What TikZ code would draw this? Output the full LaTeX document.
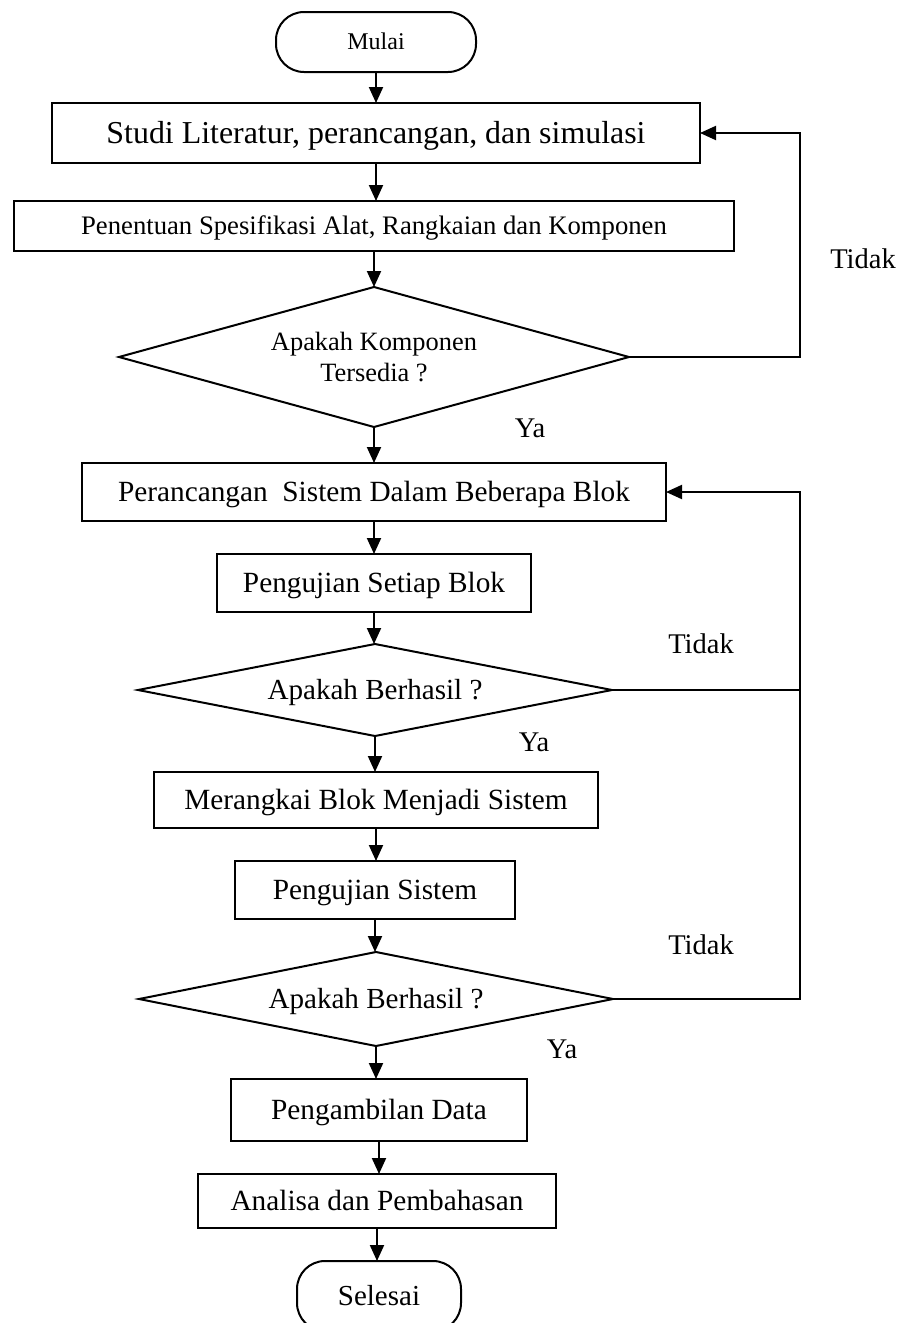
\documentclass[tikz,border=0pt]{standalone}
\usepackage{fontspec}
\setmainfont{Liberation Serif}
\usetikzlibrary{arrows.meta,shapes.geometric}
\begin{document}
\begin{tikzpicture}[x=1pt,y=-1pt,
  every node/.style={inner sep=0pt,outer sep=0pt},
  fs/.style 2 args={font=\fontsize{#1pt}{#1pt}\selectfont,text height=#2pt,text depth=0pt},
  ln/.style={line width=2pt},
  arr/.style={ln,-{Triangle[width=14pt,length=16pt]}},
  proc/.style={draw,ln,rectangle,fs={29.3}{19.3}},
  term/.style={draw,ln,rectangle,rounded corners=28pt},
  dec/.style={draw,ln,diamond},
  lbl/.style={fs={28.5}{18.8}}]
\clip (0,0) rectangle (904,1323);
% nodes
\node[term,minimum width=200pt,minimum height=60pt,fs={24}{15.8}] (start) at (376,42) {Mulai};
\node[proc,minimum width=648pt,minimum height=60pt,fs={31.9}{21}] (b1) at (376,133) {Studi Literatur, perancangan, dan simulasi};
\node[proc,minimum width=720pt,minimum height=50pt,fs={26.7}{17.6}] (b2) at (374,226) {Penentuan Spesifikasi Alat, Rangkaian dan Komponen};
\node[dec,minimum width=510pt,minimum height=140pt,shape aspect=3.6,align=center,font=\fontsize{26.4}{31}\selectfont] (d1) at (374,357) {Apakah Komponen\\Tersedia ?};
\node[proc,minimum width=584pt,minimum height=58pt] (b3) at (374,492) {Perancangan\ \ Sistem Dalam Beberapa Blok};
\node[proc,minimum width=314pt,minimum height=58pt] (b4) at (374,583) {Pengujian Setiap Blok};
\node[dec,minimum width=474pt,minimum height=92pt,shape aspect=5.1,fs={29.1}{19.2}] (d2) at (375,690) {Apakah Berhasil ?};
\node[proc,minimum width=444pt,minimum height=56pt] (b5) at (376,800) {Merangkai Blok Menjadi Sistem};
\node[proc,minimum width=280pt,minimum height=58pt] (b6) at (375,890) {Pengujian Sistem};
\node[dec,minimum width=474pt,minimum height=94pt,shape aspect=5.1,fs={29.1}{19.2}] (d3) at (376,999) {Apakah Berhasil ?};
\node[proc,minimum width=296pt,minimum height=62pt] (b7) at (379,1110) {Pengambilan Data};
\node[proc,minimum width=358pt,minimum height=54pt] (b8) at (377,1201) {Analisa dan Pembahasan};
\node[term,minimum width=164pt,minimum height=70pt,fs={29}{19.1}] (end) at (379,1296) {Selesai};
% labels
\node[lbl] (t1) at (863,259) {Tidak};
\node[lbl] (y1) at (530,428) {Ya};
\node[lbl] (t2) at (701,644) {Tidak};
\node[lbl] (y2) at (534,742) {Ya};
\node[lbl] (t3) at (701,945) {Tidak};
\node[lbl] (y3) at (562,1049) {Ya};
\coordinate (r) at (800,0);
% connectors
\draw[arr] (start.south) -- (start.south |- b1.north);
\draw[arr] (b1.south) -- (b1.south |- b2.north);
\draw[arr] (b2.south) -- (b2.south |- d1.north);
\draw[arr] (d1.south) -- (d1.south |- b3.north);
\draw[arr] (b3.south) -- (b3.south |- b4.north);
\draw[arr] (b4.south) -- (b4.south |- d2.north);
\draw[arr] (d2.south) -- (d2.south |- b5.north);
\draw[arr] (b5.south) -- (b5.south |- b6.north);
\draw[arr] (b6.south) -- (b6.south |- d3.north);
\draw[arr] (d3.south) -- (d3.south |- b7.north);
\draw[arr] (b7.south) -- (b7.south |- b8.north);
\draw[arr] (b8.south) -- (b8.south |- end.north);
\draw[arr] (d1.east) -- (d1.east -| r) |- (b1.east);
\draw[ln] (d2.east) -- (d2.east -| r);
\draw[arr] (d3.east) -- (d3.east -| r) |- (b3.east);
\end{tikzpicture}
\end{document}
